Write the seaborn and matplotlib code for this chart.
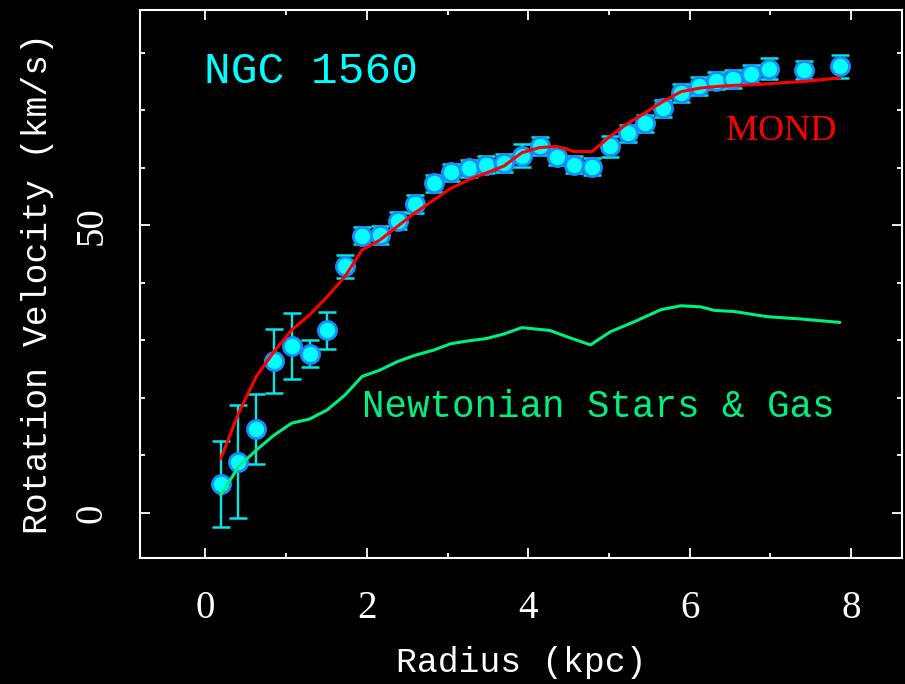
import matplotlib
matplotlib.use("Agg")
import numpy as np
import pandas as pd
import seaborn as sns
import matplotlib.pyplot as plt
from matplotlib.ticker import MultipleLocator

# Observed rotation curve of NGC 1560 (kpc, km/s)
radius = [0.19, 0.41, 0.63, 0.85, 1.07, 1.29, 1.51, 1.73, 1.94, 2.16, 2.38, 2.60,
          2.83, 3.04, 3.26, 3.48, 3.70, 3.92, 4.14, 4.35, 4.57, 4.79, 5.01, 5.23,
          5.44, 5.67, 5.89, 6.11, 6.32, 6.54, 6.76, 6.98, 7.42, 7.86]
v_obs = [5.0, 8.9, 14.6, 26.4, 29.0, 27.7, 31.7, 42.9, 48.2, 48.3, 50.8, 53.7,
         57.3, 59.2, 59.9, 60.5, 60.8, 62.1, 63.8, 61.9, 60.5, 60.2, 63.7, 66.0,
         67.7, 70.3, 73.0, 74.2, 75.1, 75.4, 76.3, 77.2, 77.0, 77.6]
v_err = [7.5, 9.8, 6.1, 5.6, 5.7, 2.3, 3.2, 2.0, 1.5, 1.5, 1.5, 1.5,
         1.5, 1.5, 1.5, 1.5, 1.5, 2.0, 1.6, 1.5, 1.5, 1.5, 1.8, 1.5,
         1.5, 1.5, 1.5, 1.5, 1.5, 1.5, 1.5, 1.8, 1.5, 2.0]

# MOND prediction
mond_r = [0.19, 0.41, 0.63, 0.85, 1.07, 1.29, 1.51, 1.73, 1.94, 2.16, 2.38, 2.60,
          2.83, 3.04, 3.26, 3.48, 3.70, 3.92, 4.14, 4.35, 4.57, 4.79, 5.01, 5.23,
          5.44, 5.67, 5.89, 6.11, 6.32, 6.54, 6.76, 6.98, 7.42, 7.86]
mond_v = [9.4, 17.3, 23.7, 28.0, 31.8, 34.4, 37.6, 41.1, 45.7, 47.4, 49.8, 52.2,
          54.4, 56.4, 57.9, 59.1, 60.3, 62.6, 63.5, 63.7, 62.8, 62.8, 65.4, 67.7,
          69.5, 71.5, 73.2, 73.8, 74.1, 74.3, 74.4, 74.6, 75.0, 75.6]

# Newtonian contribution of stars and gas
newt_r = [0.19, 0.41, 0.63, 0.85, 1.07, 1.29, 1.51, 1.73, 1.94, 2.16, 2.38, 2.60,
          2.83, 3.04, 3.26, 3.48, 3.70, 3.92, 4.27, 4.48, 4.77, 5.02, 5.31, 5.64,
          5.89, 6.14, 6.30, 6.55, 6.96, 7.38, 7.86]
newt_v = [3.1, 8.0, 10.9, 13.5, 15.6, 16.3, 17.9, 20.5, 23.7, 24.8, 26.3, 27.4,
          28.3, 29.4, 29.9, 30.3, 31.1, 32.2, 31.7, 30.6, 29.2, 31.5, 33.2, 35.3,
          36.0, 35.8, 35.2, 35.0, 34.1, 33.7, 33.1]

x_ticks = [0, 2, 4, 6, 8]
y_ticks = [0, 50]

obs = pd.DataFrame({"radius": radius, "v": v_obs, "err": v_err})
mond = pd.DataFrame({"radius": mond_r, "v": mond_v})
newt = pd.DataFrame({"radius": newt_r, "v": newt_v})

sns.set_style("ticks")
plt.rcParams.update({
    "figure.facecolor": "black",
    "axes.facecolor": "black",
    "savefig.facecolor": "black",
    "axes.edgecolor": "white",
    "text.color": "white",
    "axes.labelcolor": "white",
    "xtick.color": "white",
    "ytick.color": "white",
})

MONO = "Liberation Mono"
SERIF = "Liberation Serif"
CYAN = "#00ffff"
EDGE = "#1a8cff"
RED = "#ff0000"
GREEN = "#00f080"

fig = plt.figure(figsize=(9.05, 6.84), dpi=100)
ax = fig.add_axes([0.1547, 0.1846, 0.842, 0.8007])

ax.errorbar(obs["radius"], obs["v"], yerr=obs["err"], fmt="none",
            ecolor="#00e8e8", elinewidth=1.7, capsize=6.5, capthick=1.8, zorder=2)
sns.scatterplot(data=obs, x="radius", y="v", ax=ax, s=170, color=CYAN,
                edgecolor=EDGE, linewidth=2.0, zorder=3, legend=False)
sns.lineplot(data=mond, x="radius", y="v", ax=ax, color=RED, lw=2.2,
             estimator=None, sort=False, zorder=4)
sns.lineplot(data=newt, x="radius", y="v", ax=ax, color=GREEN, lw=2.2,
             estimator=None, sort=False, zorder=4)

ax.set_xlim(-0.81, 8.63)
ax.set_ylim(-7.8, 87.4)
ax.set_xticks(x_ticks)
ax.set_yticks(y_ticks)
ax.xaxis.set_minor_locator(MultipleLocator(1))
ax.yaxis.set_minor_locator(MultipleLocator(10))
ax.tick_params(which="both", direction="in", top=True, right=True,
               width=1.3, colors="white")
ax.tick_params(which="major", length=7.2)
ax.tick_params(which="minor", length=3.6)
ax.tick_params(axis="x", which="major", pad=23)
ax.tick_params(axis="y", which="major", pad=21)
for lab in ax.get_xticklabels():
    lab.set_fontfamily(SERIF)
    lab.set_fontsize(28)
for lab in ax.get_yticklabels():
    lab.set_fontfamily(SERIF)
    lab.set_fontsize(28)
    lab.set_rotation(90)
    lab.set_verticalalignment("center")
for side in ax.spines.values():
    side.set_color("white")
    side.set_linewidth(1.5)

ax.set_xlabel("Radius (kpc)", fontfamily=MONO, fontsize=25, labelpad=14)
ax.set_ylabel("Rotation Velocity (km/s)", fontfamily=MONO, fontsize=25, labelpad=14)

ax.text(1.31, 74.7, "NGC 1560", color=CYAN, fontfamily=MONO, fontsize=32,
        ha="center", va="baseline")
ax.text(7.13, 64.8, "MOND", color=RED, fontfamily=SERIF, fontsize=26,
        ha="center", va="baseline")
ax.text(4.87, 16.7, "Newtonian Stars & Gas", color=GREEN, fontfamily=MONO,
        fontsize=27, ha="center", va="baseline")

fig.savefig("out.png", dpi=100, facecolor="black")
